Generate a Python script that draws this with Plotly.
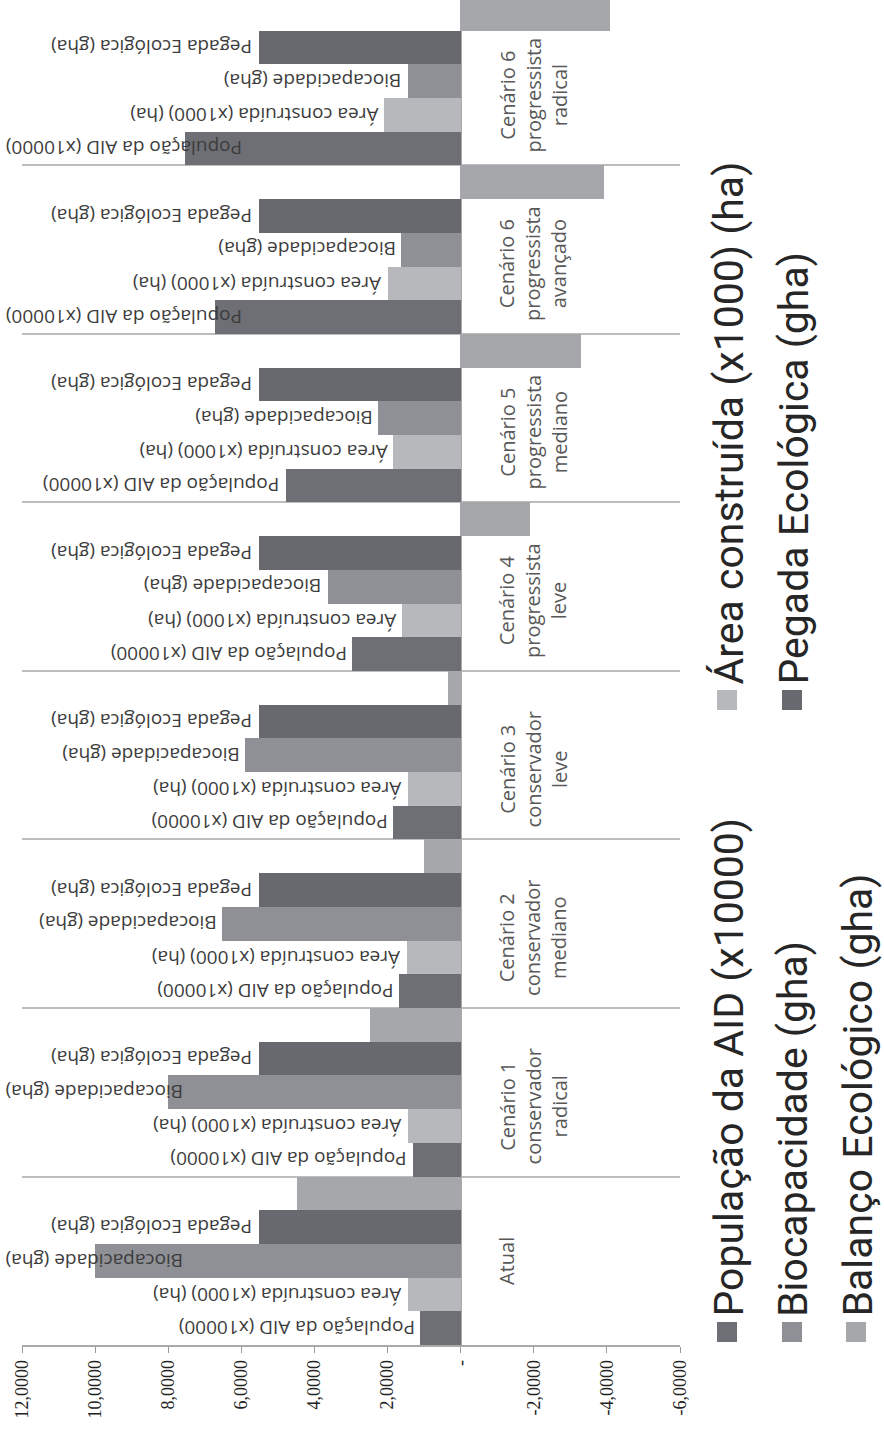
import plotly.graph_objects as go

# ---- data -------------------------------------------------------------
cenarios = [
    "Atual",
    "Cenário 1 conservador radical",
    "Cenário 2 conservador mediano",
    "Cenário 3 conservador leve",
    "Cenário 4 progressista leve",
    "Cenário 5 progressista mediano",
    "Cenário 6 progressista avançado",
    "Cenário 6 progressista radical",
]
rotulos_cenarios = [
    "Atual",
    "Cenário 1<br>conservador<br>radical",
    "Cenário 2<br>conservador<br>mediano",
    "Cenário 3<br>conservador<br>leve",
    "Cenário 4<br>progressista<br>leve",
    "Cenário 5<br>progressista<br>mediano",
    "Cenário 6<br>progressista<br>avançado",
    "Cenário 6<br>progressista<br>radical",
]
populacao = [1.10, 1.31, 1.68, 1.84, 2.96, 4.79, 6.71, 7.53]
area_construida = [1.45, 1.45, 1.48, 1.45, 1.60, 1.84, 2.00, 2.09]
biocapacidade = [10.00, 8.00, 6.52, 5.89, 3.64, 2.25, 1.62, 1.45]
pegada = [5.53, 5.53, 5.53, 5.53, 5.53, 5.53, 5.53, 5.53]
balanco = [4.47, 2.47, 0.99, 0.36, -1.89, -3.28, -3.91, -4.08]

valores_eixo = [12, 10, 8, 6, 4, 2, 0, -2, -4, -6]
rotulos_eixo = ["12,0000", "10,0000", "8,0000", "6,0000", "4,0000", "2,0000",
                "-", "-2,0000", "-4,0000", "-6,0000"]

# (name, values, colour, draw the series name beside each bar)
series = [
    ("População da AID (x10000)", populacao, "#6e6f74", True),
    ("Área construída (x1000) (ha)", area_construida, "#b6b8bc", True),
    ("Biocapacidade (gha)", biocapacidade, "#8e9095", True),
    ("Pegada Ecológica (gha)", pegada, "#68696e", True),
    ("Balanço Ecológico (gha)", balanco, "#a5a7ab", False),
]

# ---- geometry ---------------------------------------------------------
W, H = 884, 1432
ML, MR, MT, MB = 22, 204, 0, 87
X_LO, X_HI = -6, 12
PLOT_W = W - ML - MR
PLOT_H = H - MT - MB
PX_UNIT = PLOT_W / (X_HI - X_LO)

# approximate rendered width of each bar label (px), used to keep
# labels inside the chart when a bar is too long
largura_rotulo = {
    "População da AID (x10000)": 240,
    "Área construída (x1000) (ha)": 255,
    "Biocapacidade (gha)": 180,
    "Pegada Ecológica (gha)": 206,
}


def px_x(xp):
    return (xp - ML) / PLOT_W


def px_y(yp):
    return (MT + PLOT_H - yp) / PLOT_H


fig = go.Figure()
for nome, valores, cor, _ in series:
    fig.add_trace(go.Bar(
        y=cenarios, x=valores, orientation="h", name=nome,
        marker=dict(color=cor, line=dict(width=0)),
        showlegend=False,
    ))

anotacoes = []
fonte_barra = dict(family="Open Sans", size=19, color="#3c3c3c")
for k, (nome, valores, cor, rotular) in enumerate(series):
    if not rotular:
        continue
    for i, v in enumerate(valores):
        pos_y = i + (k - 2) * 0.2
        borda_px = ML + (X_HI - v) * PX_UNIT - 4
        if borda_px - largura_rotulo[nome] < 5:
            anotacoes.append(dict(
                text=nome, xref="paper", x=px_x(4), xanchor="left",
                yref="y", y=pos_y, yanchor="middle",
                textangle=180, showarrow=False, font=fonte_barra,
            ))
        else:
            anotacoes.append(dict(
                text=nome, xref="x", x=v, xanchor="right", xshift=-4,
                yref="y", y=pos_y, yanchor="middle",
                textangle=180, showarrow=False, font=fonte_barra,
            ))

# category names beside the zero line
for i, rotulo in enumerate(rotulos_cenarios):
    anotacoes.append(dict(
        text=rotulo, xref="x", x=0, xanchor="left", xshift=31,
        yref="y", y=i, yanchor="middle",
        yshift=0 if "<br>" not in rotulo else -14,
        textangle=-90, align="center", showarrow=False,
        font=dict(family="Open Sans", size=20, color="#585858"),
    ))

# ---- legend drawn as rotated text with square swatches ----------------
legenda = [
    ("População da AID (x10000)", "#6e6f74", 727, 1342),
    ("Área construída (x1000) (ha)", "#b6b8bc", 727, 710),
    ("Biocapacidade (gha)", "#8e9095", 792, 1342),
    ("Pegada Ecológica (gha)", "#68696e", 792, 710),
    ("Balanço Ecológico (gha)", "#a5a7ab", 856, 1342),
]
formas = []
LADO = 20
for nome, cor, xc, yb in legenda:
    formas.append(dict(
        type="rect", xref="paper", yref="paper",
        x0=px_x(xc - LADO / 2), x1=px_x(xc + LADO / 2),
        y0=px_y(yb), y1=px_y(yb - LADO),
        fillcolor=cor, line=dict(width=0),
    ))
    anotacoes.append(dict(
        text=nome, xref="paper", yref="paper",
        x=px_x(xc + 1), y=px_y(yb - LADO - 3),
        xanchor="center", yanchor="bottom", textangle=-90,
        showarrow=False,
        font=dict(family="Roboto", size=41, color="#262626"),
    ))

fig.update_layout(
    width=W, height=H,
    margin=dict(l=ML, r=MR, t=MT, b=MB),
    paper_bgcolor="white", plot_bgcolor="white",
    barmode="group", bargap=0, bargroupgap=0,
    annotations=anotacoes, shapes=formas,
    xaxis=dict(
        range=[X_HI, X_LO],
        tickvals=valores_eixo, ticktext=rotulos_eixo,
        tickangle=-90, ticks="outside", ticklen=6, tickcolor="#9a9a9a",
        tickfont=dict(family="Liberation Serif", size=18, color="#222222"),
        showline=True, linecolor="#a9a9a9", linewidth=1.5,
        showgrid=False,
        zeroline=True, zerolinecolor="#a9a9a9", zerolinewidth=1.5,
    ),
    yaxis=dict(
        type="category",
        range=[-0.5, 7.482],
        categoryorder="array", categoryarray=cenarios,
        showticklabels=False, ticks="",
        showgrid=True, gridcolor="#bdbdbd", gridwidth=1.5,
        tickson="boundaries", showline=False, zeroline=False,
    ),
)

fig.write_html("out.html")
